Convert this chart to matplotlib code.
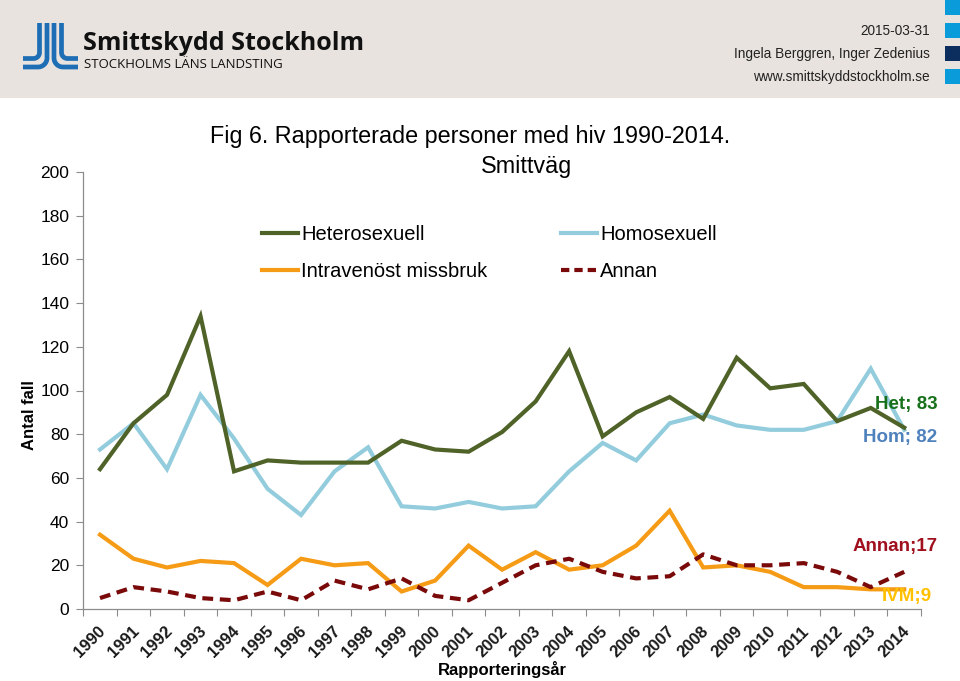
import numpy as np
import matplotlib
matplotlib.use("Agg")
import matplotlib.pyplot as plt
from matplotlib.lines import Line2D
from matplotlib.patches import Rectangle

plt.rcParams['font.family'] = ['Liberation Sans', 'DejaVu Sans']

years = list(range(1990, 2015))
het = [64, 85, 98, 134, 63, 68, 67, 67, 67, 77, 73, 72, 81, 95, 118, 79, 90, 97, 87, 115, 101, 103, 86, 92, 83]
hom = [73, 85, 64, 98, 78, 55, 43, 63, 74, 47, 46, 49, 46, 47, 63, 76, 68, 85, 89, 84, 82, 82, 86, 110, 82]
ivm = [34, 23, 19, 22, 21, 11, 23, 20, 21, 8, 13, 29, 18, 26, 18, 20, 29, 45, 19, 20, 17, 10, 10, 9, 9]
annan = [5, 10, 8, 5, 4, 8, 4, 13, 9, 14, 6, 4, 12, 20, 23, 17, 14, 15, 25, 20, 20, 21, 17, 10, 17]
series_names = ["Heterosexuell", "Homosexuell", "Intravenöst missbruk", "Annan"]
yticks = list(range(0, 201, 20))

W, H = 960, 681
fig = plt.figure(figsize=(9.6, 6.81), dpi=100)
fig.patch.set_facecolor('white')

# ---- header band (pixel coordinates) ----
hdr = fig.add_axes([0, 0, 1, 1], zorder=0)
hdr.set_xlim(0, W)
hdr.set_ylim(H, 0)
hdr.axis('off')
hdr.add_patch(Rectangle((0, 0), W, 98, color='#E8E3DF', lw=0))
for (y0, c) in [(0, '#0A9BDB'), (23, '#0A9BDB'), (46, '#0B2E5E'), (69, '#0A9BDB')]:
    hdr.add_patch(Rectangle((945, y0), 15, 15, color=c, lw=0))

logo_c = '#1E6EB5'
def stroke(xv, ytop, ybot_h, r, direction, xend):
    t = np.linspace(0, np.pi / 2, 20)
    yarc_c = ybot_h - r
    if direction < 0:
        xs_arc = xv - r + r * np.cos(t)
    else:
        xs_arc = xv + r - r * np.cos(t)
    ys_arc = yarc_c + r * np.sin(t)
    xs = np.concatenate([[xv], xs_arc, [xend]])
    ys = np.concatenate([[ytop], ys_arc, [ybot_h]])
    hdr.plot(xs, ys, color=logo_c, lw=3.4, solid_capstyle='butt')
stroke(39.5, 23, 58.5, 6, -1, 23)
stroke(47, 23, 67, 9, -1, 23)
stroke(54, 23, 67, 9, 1, 78)
stroke(61.5, 23, 58.5, 6, 1, 78)
hdr.text(83, 44, "Smittskydd Stockholm", fontsize=18, fontweight='bold',
         family=['Open Sans', 'DejaVu Sans'], va='center', ha='left', color='#111111')
hdr.text(84, 64, "STOCKHOLMS LÄNS LANDSTING", fontsize=9.5,
         family=['Open Sans', 'DejaVu Sans'], va='center', ha='left', color='#111111')
hdr.text(930, 31, "2015-03-31", fontsize=9.8, ha='right', va='center', color='#222222')
hdr.text(930, 54, "Ingela Berggren, Inger Zedenius", fontsize=9.8, ha='right', va='center', color='#222222')
hdr.text(930, 77, "www.smittskyddstockholm.se", fontsize=9.8, ha='right', va='center', color='#222222')

# title
hdr.text(470, 136, "Fig 6. Rapporterade personer med hiv 1990-2014.", fontsize=16.8,
         ha='center', va='center', color='#000000')
hdr.text(526, 166, "Smittväg", fontsize=16.8, ha='center', va='center', color='#000000')

# ---- main chart ----
left, right, top, bottom = 83.25, 921.0, 172.0, 609.0
ax = fig.add_axes([left / W, 1 - bottom / H, (right - left) / W, (bottom - top) / H], zorder=1)
ax.set_facecolor('none')
x = np.arange(len(years))
ax.set_xlim(-0.5, len(years) - 0.5)
ax.set_ylim(0, 200)

c_het, c_hom, c_ivm, c_ann = '#4F6228', '#93CDDD', '#F59B16', '#7A0A0A'
ax.plot(x, hom, color=c_hom, lw=3.0, solid_joinstyle='miter', zorder=3)
ax.plot(x, het, color=c_het, lw=3.0, solid_joinstyle='miter', zorder=4)
ax.plot(x, ivm, color=c_ivm, lw=3.0, solid_joinstyle='miter', zorder=3)
ax.plot(x, annan, color=c_ann, lw=3.0, dashes=(2.6, 1.6), zorder=4)

for s in ['top', 'right']:
    ax.spines[s].set_visible(False)
for s in ['left', 'bottom']:
    ax.spines[s].set_color('#8C8C8C')
    ax.spines[s].set_linewidth(0.9)

ax.set_yticks(yticks)
ax.set_yticklabels([str(v) for v in yticks], fontsize=12.5)
ax.tick_params(axis='y', direction='out', length=5, color='#8C8C8C', pad=5)
ax.set_xticks(np.arange(-0.5, len(years)), minor=False)
ax.set_xticklabels([])
ax.tick_params(axis='x', direction='out', length=5, color='#8C8C8C')
for i, yr in enumerate(years):
    ax.annotate(str(yr), xy=(i, 0), xycoords=('data', 'axes fraction'),
                xytext=(3, -20), textcoords='offset pixels', rotation=45,
                rotation_mode='anchor', ha='right', va='center',
                fontsize=12, fontweight='bold', color='#1a1a1a')

fig.text(30 / W, 1 - 415 / H, "Antal fall", rotation=90, fontsize=12, fontweight='bold',
         ha='center', va='center')
fig.text(502 / W, 1 - 669 / H, "Rapporteringsår", fontsize=12, fontweight='bold',
         ha='center', va='center')

# end labels
last = len(years) - 1
ax.annotate(f"Het; {het[-1]}", xy=(last, het[-1]), xytext=(33, 23), textcoords='offset pixels',
            ha='right', va='center', fontsize=13.5, fontweight='bold', color='#17701A')
ax.annotate(f"Hom; {hom[-1]}", xy=(last, hom[-1]), xytext=(33, -8), textcoords='offset pixels',
            ha='right', va='center', fontsize=13.5, fontweight='bold', color='#4F81BD')
ax.annotate(f"Annan;{annan[-1]}", xy=(last, annan[-1]), xytext=(33, 25), textcoords='offset pixels',
            ha='right', va='center', fontsize=13.5, fontweight='bold', color='#A0101E')
ax.annotate(f"IVM;{ivm[-1]}", xy=(last, ivm[-1]), xytext=(28, -7), textcoords='offset pixels',
            ha='right', va='center', fontsize=13.5, fontweight='bold', color='#FFC000')

# legend
handles = [Line2D([], [], color=c_het, lw=3.0),
           Line2D([], [], color=c_hom, lw=3.0),
           Line2D([], [], color=c_ivm, lw=3.0),
           Line2D([], [], color=c_ann, lw=3.0, dashes=(2.0, 1.2))]
order = [0, 2, 1, 3]
leg = fig.legend([handles[i] for i in order], [series_names[i] for i in order],
                 ncol=2, loc='upper left', bbox_to_anchor=(262 / W, 1 - 225 / H),
                 frameon=False, fontsize=14.5, handlelength=1.8, handletextpad=0.15,
                 columnspacing=3.65, labelspacing=0.88, borderpad=0, borderaxespad=0)

fig.savefig("out.png", dpi=100)
